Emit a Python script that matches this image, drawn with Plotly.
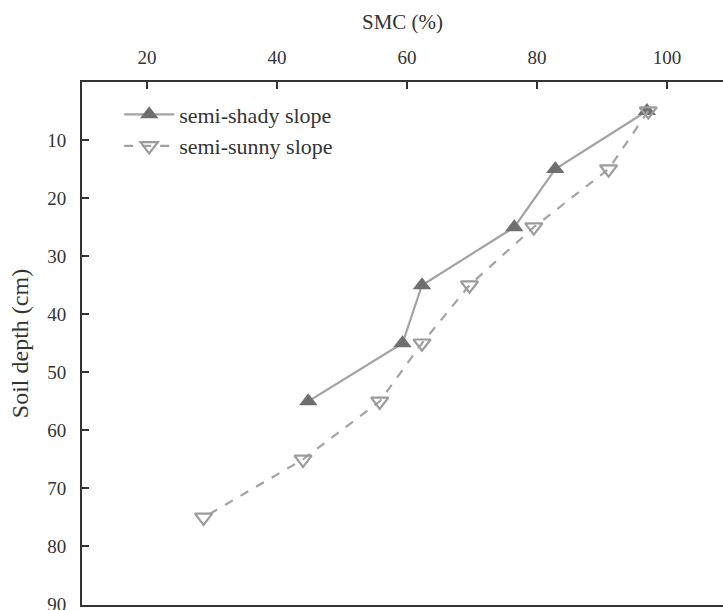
import plotly.graph_objects as go

depth_shady = [5, 15, 25, 35, 45, 55]
smc_shady = [96.9, 82.8, 76.5, 62.3, 59.3, 44.8]

depth_sunny = [5, 15, 25, 35, 45, 55, 65, 75]
smc_sunny = [97.1, 91.0, 79.5, 69.6, 62.3, 55.8, 44.0, 28.7]

x_ticks = [20, 40, 60, 80, 100]
y_ticks = [10, 20, 30, 40, 50, 60, 70, 80, 90]

fig = go.Figure()
fig.add_trace(go.Scatter(
    x=smc_shady, y=depth_shady, mode="lines+markers", name="semi-shady slope",
    line=dict(color="#a3a3a3", width=2.2),
    marker=dict(symbol="triangle-up", size=16, color="#6f6f6f", line=dict(width=0)),
))
fig.add_trace(go.Scatter(
    x=smc_sunny, y=depth_sunny, mode="lines+markers", name="semi-sunny slope",
    line=dict(color="#a3a3a3", width=2.2, dash="dash"),
    marker=dict(symbol="triangle-down-open", size=15, color="#9c9c9c", line=dict(width=2.2)),
))

font_family = "Liberation Serif, Times New Roman, serif"
fig.update_layout(
    width=723, height=610,
    margin=dict(l=82, r=0, t=82, b=5),
    paper_bgcolor="white", plot_bgcolor="white",
    font=dict(family=font_family, size=19, color="#333333"),
    showlegend=True,
    legend=dict(x=0.058, y=0.978, xanchor="left", yanchor="top",
                font=dict(size=22, color="#333333"), bgcolor="rgba(0,0,0,0)",
                itemwidth=50, tracegroupgap=0),
    xaxis=dict(
        side="top", range=[10, 108.6], tickvals=x_ticks,
        ticks="inside", ticklen=7, tickwidth=2, tickcolor="#333333",
        showline=True, linecolor="#333333", linewidth=2, mirror=True,
        showgrid=False, zeroline=False, ticklabelstandoff=8,
        automargin=False,
        title=dict(text="SMC (%)", standoff=12, font=dict(size=21)),
        tickfont=dict(size=19),
    ),
    yaxis=dict(
        range=[90.08, 0], tickvals=y_ticks,
        ticks="inside", ticklen=7, tickwidth=2, tickcolor="#333333",
        showline=True, linecolor="#333333", linewidth=2,
        showgrid=False, zeroline=False, ticklabelstandoff=10,
        ticklabeloverflow="allow", automargin=False,
        title=dict(text="Soil depth (cm)", standoff=12, font=dict(size=24)),
        tickfont=dict(size=19),
    ),
)

fig.write_html("out.html")
